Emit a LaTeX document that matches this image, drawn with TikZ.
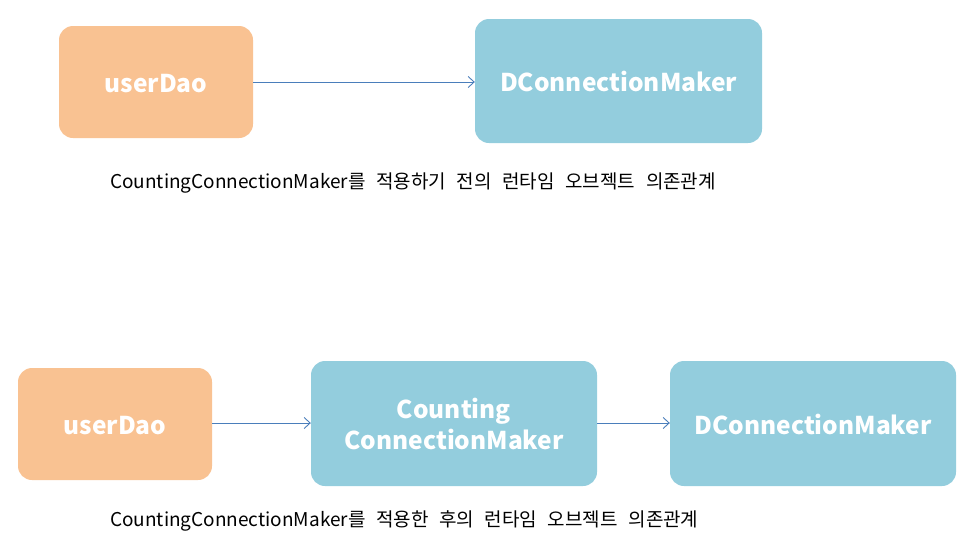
\documentclass[tikz,border=0pt]{standalone}
\usepackage{fontspec}
\setmainfont{Noto Sans CJK KR}
\newfontfamily\capfont{Noto Sans CJK KR}[WordSpace=2.5]
\usetikzlibrary{arrows.meta}
\definecolor{peach}{HTML}{F9C292}
\definecolor{skyb}{HTML}{93CDDD}
\definecolor{arrowc}{HTML}{4A7EBB}
\newcommand\lowtxt[1]{\smash{\raisebox{-10.5pt}{#1}}}
\tikzset{
  box/.style={rounded corners=14pt, inner sep=0pt, text=white, align=center, font=\bfseries\fontsize{24.5}{31}\selectfont},
  conn/.style={draw=arrowc, line width=0.9pt, -{Straight Barb[length=6pt,width=11pt,line width=0.9pt]}},
  captext/.style={anchor=west, inner sep=0pt, font=\capfont\fontsize{19}{22}\selectfont}
}
\begin{document}
\begin{tikzpicture}[x=1pt,y=-1pt]
\useasboundingbox (0,0) rectangle (968,542);
% top
\node[box, fill=peach, minimum width=194pt, minimum height=112pt] (u1) at (156,82) {\lowtxt{userDao}};
\node[box, fill=skyb, minimum width=287pt, minimum height=124pt] (d1) at (618.5,81) {\lowtxt{DConnectionMaker}};
\draw[conn] (u1.east |- 0,82) -- (d1.west |- 0,82);
\node[captext] (c1) at (110,183) {CountingConnectionMaker를 적용하기 전의 런타임 오브젝트 의존관계};
% bottom
\node[box, fill=peach, minimum width=194pt, minimum height=112pt] (u2) at (115,424) {\lowtxt{userDao}};
\node[box, fill=skyb, minimum width=286pt, minimum height=125pt] (cc) at (454,423.5) {Counting\\ConnectionMaker};
\node[box, fill=skyb, minimum width=286pt, minimum height=125pt] (d2) at (813,423.5) {\lowtxt{DConnectionMaker}};
\draw[conn] (u2.east |- 0,423) -- (cc.west |- 0,423);
\draw[conn] (cc.east |- 0,423) -- (d2.west |- 0,423);
\node[captext] (c2) at (110,521) {CountingConnectionMaker를 적용한 후의 런타임 오브젝트 의존관계};
\end{tikzpicture}
\end{document}
